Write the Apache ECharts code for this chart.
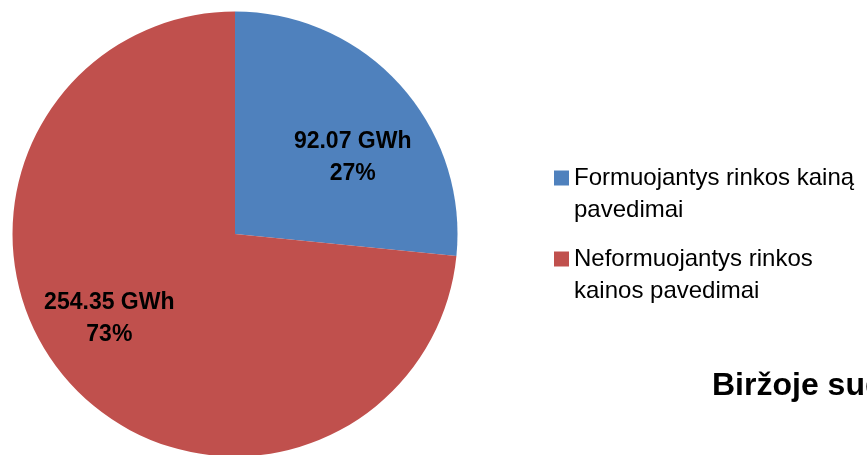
<!DOCTYPE html>
<html>
<head>
<meta charset="utf-8">
<script src="https://cdn.jsdelivr.net/npm/echarts@6/dist/echarts.min.js"></script>
<style>
  html, body { margin: 0; padding: 0; background: #fff; }
  #chart { width: 867px; height: 455px; }
</style>
</head>
<body>
<div id="chart"></div>
<script>
const categories = ["Formuojantys rinkos kainą pavedimai", "Neformuojantys rinkos kainos pavedimai"];
// leading empty line keeps the square level with the first text line
const legendLabels = ["\nFormuojantys rinkos kainą\npavedimai", "\nNeformuojantys rinkos\nkainos pavedimai"];
const values = [92.07, 254.35];
const colors = ["#4F81BD", "#C0504D"];
const labelOffsets = [[33, 0], [-41, 8]];

const font = "'Liberation Sans', Arial, sans-serif";
const myChart = echarts.init(document.getElementById("chart"));

const legendBase = {
  orient: "vertical",
  left: 554,
  padding: 0,
  itemWidth: 15,
  itemHeight: 15,
  icon: "rect",
  selectedMode: false,
  formatter: (name) => legendLabels[categories.indexOf(name)],
  textStyle: {
    fontFamily: font,
    fontSize: 24,
    color: "#000",
    lineHeight: 32,
  },
};

myChart.setOption({
  animation: false,
  title: {
    text: "Biržoje sudaryti sandoriai",
    left: 712,
    top: 370,
    padding: 0,
    textStyle: { fontFamily: font, fontSize: 32, fontWeight: "bold", color: "#000" },
  },
  legend: [
    Object.assign({}, legendBase, { data: [categories[0]], top: 130 }),
    Object.assign({}, legendBase, { data: [categories[1]], top: 211 }),
  ],
  series: [
    {
      type: "pie",
      center: [235, 234],
      radius: 222.5,
      startAngle: 90,
      clockwise: true,
      percentPrecision: 0,
      avoidLabelOverlap: false,
      itemStyle: { borderWidth: 0 },
      emphasis: { disabled: true },
      label: {
        show: true,
        position: "inside",
        formatter: "{c} GWh\n{d}%",
        fontFamily: font,
        fontSize: 23,
        fontWeight: "bold",
        color: "#000",
        lineHeight: 32,
        textBorderWidth: 0,
      },
      data: categories.map((name, i) => ({
        name: name,
        value: values[i],
        itemStyle: { color: colors[i] },
        label: { offset: labelOffsets[i] },
      })),
    },
  ],
});
</script>
</body>
</html>
